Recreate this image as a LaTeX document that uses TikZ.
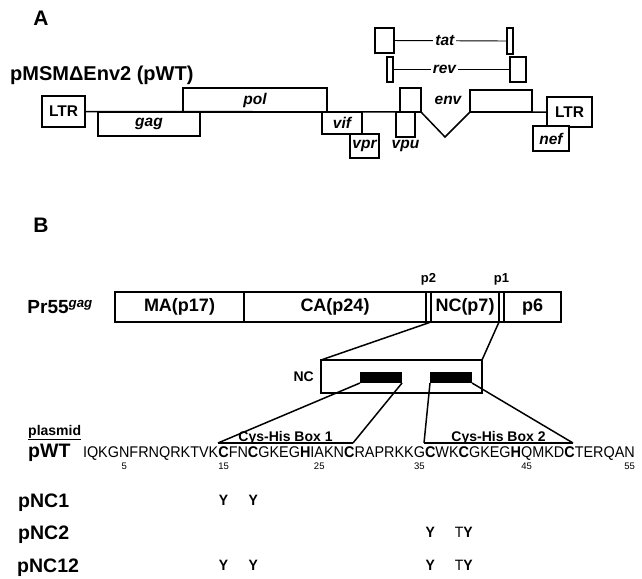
\documentclass[tikz,border=0pt]{standalone}
\usepackage{fontspec}
\setmainfont{Liberation Sans}
\newfontfamily\seqfont{Liberation Sans}[FakeStretch=0.93]
\usetikzlibrary{positioning}

\begin{document}
\begin{tikzpicture}[
    x=1pt, y=-1pt,
    panel/.style={inner sep=0pt, font=\fontsize{21}{24}\selectfont\bfseries},
    orf/.style={draw, line width=1.4pt, fill=white, inner sep=0pt, outer sep=0pt, anchor=north west, font=\fontsize{15.5}{16}\selectfont\bfseries\itshape},
    ltr/.style={orf, font=\fontsize{15.5}{16}\selectfont\bfseries},
    gname/.style={inner sep=2pt, font=\fontsize{15.5}{16}\selectfont\bfseries\itshape},
    genome/.style={line width=1.5pt},
    exon/.style={line width=0.9pt},
    seg/.style={draw, line width=1.1pt, inner sep=0pt, outer sep=0pt, minimum height=30pt, font=\fontsize{18}{20}\selectfont\bfseries},
    tag/.style={inner sep=1pt, font=\fontsize{13}{14}\selectfont\bfseries},
    zoomline/.style={line width=1.5pt},
    hisbox/.style={line width=2.2pt},
    boxname/.style={inner sep=0pt, anchor=base, yshift=2pt, font=\fontsize{14}{15}\selectfont\bfseries},
    res/.style={inner sep=0pt, outer sep=0pt, anchor=base west, font=\seqfont\fontsize{15.5}{16}\selectfont},
    num/.style={inner sep=0pt, font=\fontsize{9.5}{10}\selectfont},
    mut/.style={inner sep=0pt, anchor=base, font=\seqfont\fontsize{15}{16}\selectfont},
    clone/.style={inner sep=0pt, anchor=base west, font=\fontsize{19.5}{20}\selectfont\bfseries}
  ]
    \useasboundingbox (0,0) rectangle (642,578);

    % panel A: proviral genome
    \node[panel] (A) at (41,18) {A};
    \node[inner sep=0pt, anchor=west, font=\fontsize{20}{22}\selectfont\bfseries] (construct) at (10,75) {pMSMΔEnv2 (pWT)};

    \node[orf, minimum width=19pt, minimum height=25pt] (tat1) at (375,28) {};
    \node[orf, minimum width=6pt, minimum height=26pt] (tat2) at (507,28) {};
    \node[orf, minimum width=6pt, minimum height=25pt] (rev1) at (387,57) {};
    \node[orf, minimum width=16pt, minimum height=25pt] (rev2) at (510,57) {};
    \draw[exon] (tat1) -- node[gname, pos=0.45, fill=white] (tatlbl) {tat} (tat2);
    \draw[exon] (rev1) -- node[gname, pos=0.44, fill=white] (revlbl) {rev} (rev2);

    \node[ltr, minimum width=43pt, minimum height=31pt] (ltr5) at (42,96) {LTR};
    \node[orf, minimum width=102pt, minimum height=24pt] (gag) at (98,112) {gag};
    \node[orf, minimum width=144pt, minimum height=24pt] (pol) at (183,88) {pol};
    \node[orf, minimum width=40pt, minimum height=22pt] (vif) at (322,112) {vif};
    \node[orf, minimum width=29pt, minimum height=24pt] (vpr) at (350,134) {vpr};
    \node[orf, minimum width=19pt, minimum height=25pt] (vpu) at (396,112) {};
    \node[orf, minimum width=21pt, minimum height=24pt] (env1) at (400,88) {};
    \node[orf, minimum width=62pt, minimum height=22pt] (env2) at (470,90) {};
    \node[ltr, minimum width=45pt, minimum height=30pt] (ltr3) at (547,97) {LTR};
    \node[orf, minimum width=36pt, minimum height=25pt] (nef) at (533,126) {nef};
    \node[gname, below=1pt of vpu] (vpulbl) {vpu};
    \node[gname] (envlbl) at (448,100) {env};

    \coordinate (envdip) at (445,137);
    \draw[genome] (ltr5.east) -- (env1.south east) -- (envdip) -- (env2.south west)
                  (env2.south east) -- (ltr3.west);

    % panel B: Gag precursor and NC
    \node[panel] (B) at (41,225) {B};
    \node[seg, minimum width=129pt, anchor=north west] (ma) at (115,292) {MA(p17)};
    \node[seg, minimum width=182pt, right=0pt of ma] (ca) {CA(p24)};
    \node[seg, minimum width=5pt, right=0pt of ca] (sp2) {};
    \node[seg, minimum width=68pt, right=0pt of sp2] (nc) {NC(p7)};
    \node[seg, minimum width=5pt, right=0pt of nc] (sp1) {};
    \node[seg, minimum width=57pt, right=0pt of sp1] (p6) {p6};
    \draw[line width=2pt] (ma.north west) rectangle (p6.south east);
    \node[inner sep=0pt, left=22pt of ma, font=\fontsize{19}{20}\selectfont\bfseries] (pr55) {Pr55\textsuperscript{\itshape gag}};
    \node[tag, above=6pt of sp2] (p2lbl) {p2};
    \node[tag, above=6pt of sp1] (p1lbl) {p1};

    \node[draw, line width=2pt, minimum width=161pt, minimum height=33pt, inner sep=0pt, outer sep=0pt, anchor=north west] (ncbox) at (321,360) {};
    \node[fill=black, minimum width=42pt, minimum height=11pt, inner sep=0pt, outer sep=0pt, anchor=north west] (zf1) at (360,372) {};
    \node[fill=black, minimum width=42pt, minimum height=11pt, inner sep=0pt, outer sep=0pt, anchor=north west] (zf2) at (430,372) {};
    \node[inner sep=0pt, left=7pt of ncbox, font=\fontsize{14}{15}\selectfont\bfseries] (nclbl) {NC};
    \draw[zoomline] (nc.south west) -- (ncbox.north west);
    \draw[zoomline] (nc.south east) -- (ncbox.north east);

    \coordinate (h1a) at (218,443);
    \coordinate (h1b) at (353,443);
    \coordinate (h2a) at (424,443);
    \coordinate (h2b) at (573,443);
    \draw[zoomline] (zf1.south west) -- (h1a);
    \draw[zoomline] (zf1.south east) -- (h1b);
    \draw[zoomline] (zf2.south west) -- (h2a);
    \draw[zoomline] (zf2.south east) -- (h2b);
    \draw[hisbox] (h1a) -- node[boxname] (cys1) {Cys-His Box 1} (h1b);
    \draw[hisbox] (h2a) -- node[boxname] (cys2) {Cys-His Box 2} (h2b);

    % sequence and mutants
    \node[inner sep=0pt, anchor=base west, font=\fontsize{14}{15}\selectfont\bfseries] (plasmid) at (28,435) {\underline{plasmid}};
    \node[clone] (pwt) at (28,457) {pWT};
    \node[res] (r0) at (82,457) {};
    \foreach \aa [count=\i, evaluate=\i as \j using int(\i-1)] in {I,Q,K,G,N,F,R,N,Q,R,K,T,V,K,\textbf{C},F,N,\textbf{C},G,K,E,G,\textbf{H},I,A,K,N,\textbf{C},R,A,P,R,K,K,G,\textbf{C},W,K,\textbf{C},G,K,E,G,\textbf{H},Q,M,K,D,\textbf{C},T,E,R,Q,A,N}
      \node[res] (r\i) at (r\j.base east) {\aa};
    \foreach \k in {5,15,25,35,45,55}
      \node[num, below=6pt of r\k.base] (n\k) {\k};

    \node[clone] (pnc1) at (18,507) {pNC1};
    \node[clone] (pnc2) at (18,539) {pNC2};
    \node[clone] (pnc12) at (17,572) {pNC12};
    \node[mut, yshift=-48pt] (m1a) at (r15.base) {\textbf{Y}};
    \node[mut, yshift=-48pt] (m1b) at (r18.base) {\textbf{Y}};
    \node[mut, yshift=-80pt] (m2a) at (r36.base) {\textbf{Y}};
    \node[mut, yshift=-80pt] (m2b) at (r39.base) {T\textbf{Y}};
    \node[mut, yshift=-113pt] (m12a) at (r15.base) {\textbf{Y}};
    \node[mut, yshift=-113pt] (m12b) at (r18.base) {\textbf{Y}};
    \node[mut, yshift=-113pt] (m12c) at (r36.base) {\textbf{Y}};
    \node[mut, yshift=-113pt] (m12d) at (r39.base) {T\textbf{Y}};
\end{tikzpicture}
\end{document}
